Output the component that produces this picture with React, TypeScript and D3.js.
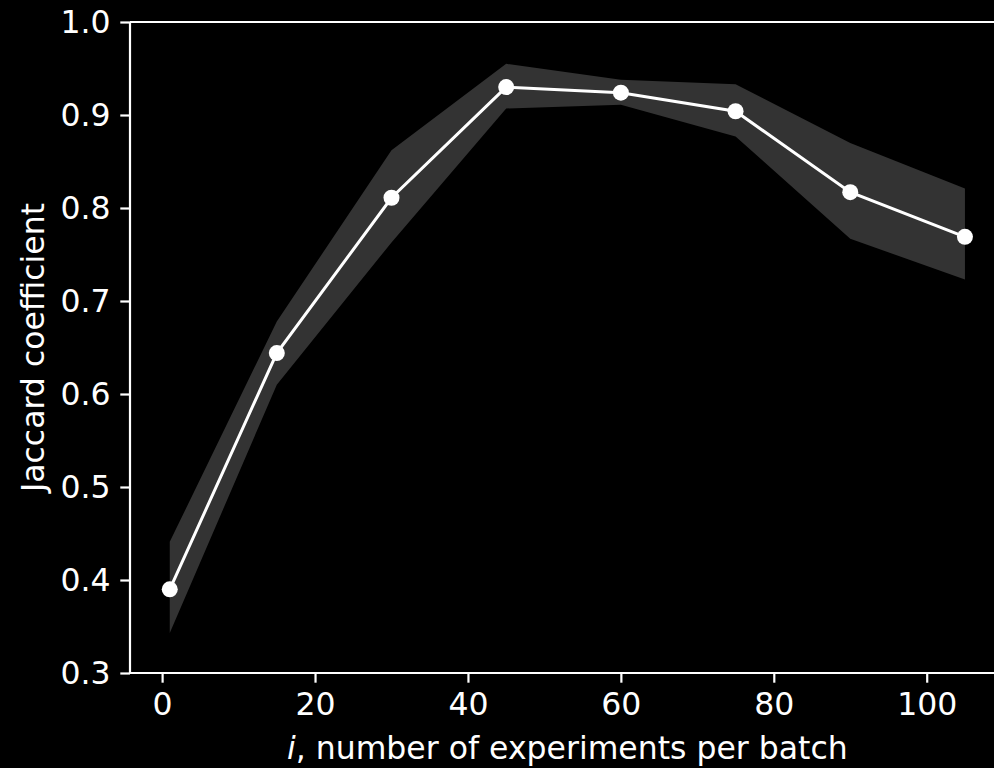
import { useEffect, useRef } from 'react'
import * as d3 from 'd3'

const batchSizes = [1, 15, 30, 45, 60, 75, 90, 105]
const jaccardMean = [0.39, 0.644, 0.811, 0.93, 0.924, 0.904, 0.817, 0.769]
const jaccardUpper = [0.441, 0.678, 0.862, 0.955, 0.938, 0.933, 0.87, 0.821]
const jaccardLower = [0.343, 0.61, 0.763, 0.907, 0.911, 0.877, 0.767, 0.723]
const xTicks = [0, 20, 40, 60, 80, 100]
const yTicks = [0.3, 0.4, 0.5, 0.6, 0.7, 0.8, 0.9, 1.0]

type Pt = { x: number; mean: number; lo: number; hi: number }

const App = () => {
  const svgRef = useRef<SVGSVGElement | null>(null)

  useEffect(() => {
    document.body.style.margin = '0'
    document.body.style.background = '#000'
    if (!svgRef.current) return

    const svg = d3.select(svgRef.current)
    svg.selectAll('*').remove()

    const width = 994
    const height = 768
    const left = 130
    const top = 22
    const bottom = 673
    const font = 'DejaVu Sans, sans-serif'
    const fontSize = '31.5px'

    const pts: Pt[] = batchSizes.map((x, i) => ({
      x,
      mean: jaccardMean[i],
      lo: jaccardLower[i],
      hi: jaccardUpper[i],
    }))

    // matplotlib-style 5% margin on x
    const span = 105 - 1
    const x = d3
      .scaleLinear()
      .domain([1 - span * 0.05, 105 + span * 0.05])
      .range([left, left + span * 1.1 * 7.646])

    const y = d3.scaleLinear().domain([0.3, 1.0]).range([bottom, top])

    svg.attr('width', width).attr('height', height).style('background', '#000')

    const band = d3
      .area<Pt>()
      .x((d) => x(d.x))
      .y0((d) => y(d.lo))
      .y1((d) => y(d.hi))

    svg.append('path').datum(pts).attr('d', band).attr('fill', '#333333')

    const line = d3
      .line<Pt>()
      .x((d) => x(d.x))
      .y((d) => y(d.mean))

    svg
      .append('path')
      .datum(pts)
      .attr('d', line)
      .attr('fill', 'none')
      .attr('stroke', '#fff')
      .attr('stroke-width', 3)

    svg
      .selectAll('circle.pt')
      .data(pts)
      .enter()
      .append('circle')
      .attr('class', 'pt')
      .attr('cx', (d) => x(d.x))
      .attr('cy', (d) => y(d.mean))
      .attr('r', 8)
      .attr('fill', '#fff')

    // spines
    const xr = x.range()
    svg
      .append('path')
      .attr('d', `M${xr[0]},${bottom}H${xr[1]}M${xr[0]},${top}H${xr[1]}M${xr[0]},${top}V${bottom}M${xr[1]},${top}V${bottom}`)
      .attr('stroke', '#fff')
      .attr('stroke-width', 2.2)
      .attr('fill', 'none')

    const xAxis = svg
      .append('g')
      .attr('transform', `translate(0,${bottom})`)
      .call(d3.axisBottom(x).tickValues(xTicks).tickSize(9.7).tickPadding(9.7).tickFormat(d3.format('d')))
    xAxis.select('.domain').remove()

    const yAxis = svg
      .append('g')
      .attr('transform', `translate(${left},0)`)
      .call(d3.axisLeft(y).tickValues(yTicks).tickSize(9.7).tickPadding(9.7).tickFormat(d3.format('.1f')))
    yAxis.select('.domain').remove()

    svg.selectAll('.tick line').attr('stroke', '#fff').attr('stroke-width', 2.2)
    svg
      .selectAll('.tick text')
      .attr('fill', '#fff')
      .style('font-family', font)
      .style('font-size', fontSize)

    const xLabel = svg
      .append('text')
      .attr('x', (left + xr[1]) / 2)
      .attr('y', 759)
      .attr('text-anchor', 'middle')
      .attr('fill', '#fff')
      .style('font-family', font)
      .style('font-size', fontSize)
    xLabel.append('tspan').style('font-style', 'italic').text('i')
    xLabel.append('tspan').text(', number of experiments per batch')

    svg
      .append('text')
      .attr('transform', `translate(44,${(top + bottom) / 2}) rotate(-90)`)
      .attr('text-anchor', 'middle')
      .attr('fill', '#fff')
      .style('font-family', font)
      .style('font-size', fontSize)
      .text('Jaccard coefficient')
  }, [])

  return (
    <div style={{ width: 994, height: 768, overflow: 'hidden', background: '#000' }}>
      <svg ref={svgRef} style={{ display: 'block' }} />
    </div>
  )
}

export default App
